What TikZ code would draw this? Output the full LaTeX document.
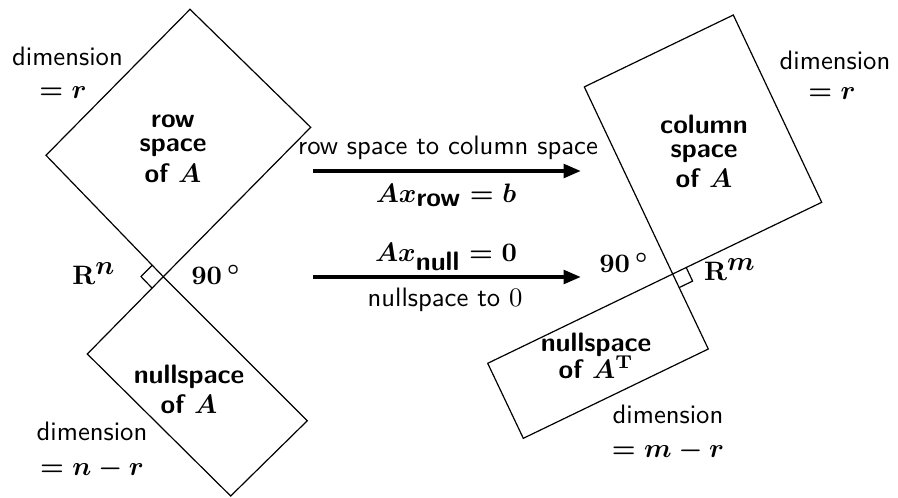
\documentclass[tikz,border=0pt]{standalone}
\usetikzlibrary{arrows.meta}
\begin{document}
\begin{tikzpicture}[x=0.375pt,y=-0.375pt,
  lbl/.style={font=\sffamily, inner sep=0pt, align=center, anchor=base},
  blbl/.style={font=\sffamily\bfseries\boldmath, inner sep=0pt, align=center, anchor=base},
  mlbl/.style={font=\sffamily\boldmath, inner sep=0pt, anchor=base},
  subsp/.style={draw=black, line width=0.45pt, line join=miter},
  bigarrow/.style={line width=1.5pt, -{Triangle[length=6.5pt,width=5pt]}}]
\useasboundingbox (0,0) rectangle (898,497);
% left figure
\coordinate (P) at (163.3,276.7);
\coordinate (R1) at (310.7,127.3);
\coordinate (T1) at (190,9.3);
\coordinate (L1) at (46,155.3);
\coordinate (L2) at (87.3,354);
\coordinate (B2) at (230.7,496);
\coordinate (R2) at (307.3,420.7);
\draw[subsp] (P) -- (R1) -- (T1) -- (L1) -- cycle;
\draw[subsp] (P) -- (L2) -- (B2) -- (R2) -- cycle;
\draw[subsp] (152.2,265.2) -- (141,276.6) -- (152.1,288.1);
% right figure
\coordinate (Q) at (672.7,274);
\coordinate (R3) at (821.7,202.3);
\coordinate (T3) at (733.3,15);
\coordinate (L3) at (584.3,86.9);
\coordinate (Rn) at (708.3,349);
\coordinate (Bn) at (523.3,438.3);
\coordinate (Ln) at (487.7,363.3);
\draw[subsp] (Q) -- (R3) -- (T3) -- (L3) -- cycle;
\draw[subsp] (Q) -- (Rn) -- (Bn) -- (Ln) -- cycle;
\draw[subsp] (686.2,267.5) -- (692.6,281.1) -- (679.1,287.6);
% arrows
\coordinate (a1s) at (313,171);
\coordinate (a1e) at (581,171);
\coordinate (a2s) at (313,277);
\coordinate (a2e) at (581,277);
\draw[bigarrow] (a1s) -- (a1e);
\draw[bigarrow] (a2s) -- (a2e);
% labels left
\node[lbl] (dimL) at (67.5,65) {dimension};
\node[mlbl] (rL) at (63,98) {$=r$};
\node[blbl] (row) at (173,182) {row\\[-3pt]space\\[-0.6pt]of $A$};
\node[mlbl] (RnL) at (94,284) {$\mathbf{R}^{\textstyle n}$};
\node[mlbl] (ninetyL) at (216,284) {$90\,^\circ$};
\node[blbl] (nullA) at (189,413) {nullspace\\[-1pt]of $A$};
\node[lbl] (dimNL) at (92,440) {dimension};
\node[mlbl] (nrL) at (92,475) {$=n-r$};
% arrow labels
\node[lbl] (rtc) at (448,154) {row space to column space};
\node[mlbl] (axrow) at (446,202) {$Ax_{\textbf{\textsf{row}}}=b$};
\node[mlbl] (axnull) at (446,261) {$Ax_{\textbf{\textsf{null}}}=0$};
\node[lbl] (nt0) at (445,306) {nullspace to $0$};
% labels right
\node[lbl] (dimR) at (835,69) {dimension};
\node[mlbl] (rR) at (832,99) {$=r$};
\node[blbl] (col) at (704,187) {column\\[-3pt]space\\[-1pt]of $A$};
\node[mlbl] (ninetyR) at (624,272) {$90\,^\circ$};
\node[mlbl] (Rm) at (730,280) {$\mathbf{R}^{\textstyle m}$};
\node[blbl] (nullAT) at (596,378) {nullspace\\[-2.2pt]of $A^{\mathrm{T}}$};
\node[lbl] (dimNR) at (668,423) {dimension};
\node[mlbl] (mrR) at (668,457) {$=m-r$};
\end{tikzpicture}
\end{document}
